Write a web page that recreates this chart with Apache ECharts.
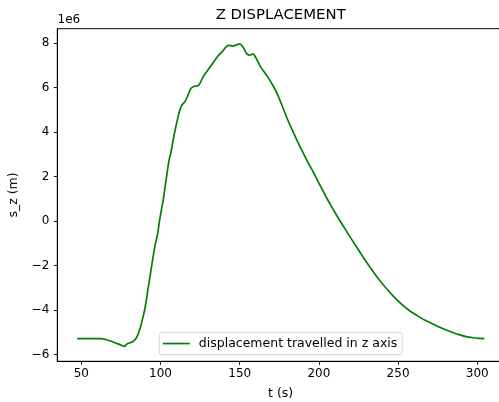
<!DOCTYPE html>
<html>
<head>
<meta charset="utf-8">
<script src="https://cdn.jsdelivr.net/npm/echarts@6/dist/echarts.min.js"></script>
<style>html,body{margin:0;padding:0;background:#fff}#c{width:499px;height:402px}</style>
</head>
<body>
<div id="c"></div>
<script>
// time (s)
const tValues = [47.3,55,62,66,70,74,77,79,81,83,85,87,89,90.5,92,94,96,97,98,99.7,101.8,103.9,105.4,106.5,108.1,110,112,113.5,115.5,117,119,121,123.5,125,127,129.5,133,136,139,141,143,145.5,148,150,152.3,154.5,156.5,158.5,160.5,163.5,166,168,170.5,173.5,177,180,183,187,190,193,196.5,200,203,206,209.5,213.3,217,221,224.5,228,232,236.5,241,247,252,257.5,263,268,273,278.5,284,289,293,297.5,301,304.5];
// s_z in units of 1e6 m
const szValues = [-5.29,-5.29,-5.29,-5.34,-5.44,-5.55,-5.64,-5.52,-5.47,-5.40,-5.22,-4.85,-4.30,-3.80,-3.10,-2.20,-1.30,-0.95,-0.65,0.16,1.00,2.05,2.75,3.05,3.70,4.35,4.95,5.22,5.38,5.60,5.95,6.05,6.08,6.20,6.50,6.75,7.10,7.40,7.62,7.80,7.90,7.87,7.92,7.97,7.80,7.52,7.46,7.52,7.30,6.90,6.65,6.45,6.15,5.75,5.15,4.60,4.12,3.50,3.08,2.65,2.20,1.70,1.30,0.90,0.46,0.01,-0.41,-0.86,-1.25,-1.63,-2.05,-2.50,-2.90,-3.38,-3.73,-4.05,-4.30,-4.50,-4.67,-4.85,-5.00,-5.12,-5.20,-5.25,-5.28,-5.29];
const xTicks = [50,100,150,200,250,300];
const yTicks = [-6,-4,-2,0,2,4,6,8];
const seriesName = 'displacement travelled in z axis';
const titleText = 'Z DISPLACEMENT';
const xName = 't (s)';
const yName = 's_z (m)';
const offsetText = '1e6';

const FONT = 'DejaVu Sans';
const chart = echarts.init(document.getElementById('c'), null, {renderer:'canvas'});
const data = tValues.map((t,i)=>[t, szValues[i]]);
chart.setOption({
  animation: false,
  backgroundColor: '#fff',
  graphic: [
    {type:'text', style:{text:titleText, x:280.7, y:15, textAlign:'center', textVerticalAlign:'middle', font:'14.9px "DejaVu Sans"', fill:'#000'}},
    {type:'text', style:{text:offsetText, x:57.5, y:19.5, textAlign:'left', textVerticalAlign:'middle', font:'12px "DejaVu Sans"', fill:'#000'}}
  ],
  grid: {left:57.3, top:28.7, right:-5, bottom:40.7, show:true, borderColor:'#000', borderWidth:1, backgroundColor:'transparent', containLabel:false, outerBoundsMode:'none'},
  legend: {
    left:159.3, top:332.3, orient:'horizontal',
    padding:[4,5,4,3.5],
    itemWidth:27, itemHeight:1.7,
    backgroundColor:'#fff', borderColor:'#d6d6d6', borderWidth:1, borderRadius:3,
    textStyle:{fontFamily:FONT, fontSize:12.5, color:'#000', padding:[0,0,0,4], lineHeight:14.5},
    data:[{name:seriesName, icon:'rect'}]
  },
  xAxis: {
    type:'value', min:34.8, max:316.9,
    name:xName, nameLocation:'middle', nameGap:26,
    nameTextStyle:{fontFamily:FONT, fontSize:12.5, color:'#000'},
    axisLine:{show:true, onZero:false, lineStyle:{color:'#000', width:1}},
    axisTick:{show:true, inside:false, length:3.5, lineStyle:{color:'#000', width:0.9}, customValues:xTicks},
    axisLabel:{show:true, margin:7, fontFamily:FONT, fontSize:12, color:'#000', customValues:xTicks},
    splitLine:{show:false}
  },
  yAxis: {
    type:'value', min:-6.31, max:8.65,
    name:yName, nameLocation:'middle', nameGap:32, nameRotate:90,
    nameTextStyle:{fontFamily:FONT, fontSize:12.5, color:'#000'},
    axisLine:{show:true, onZero:false, lineStyle:{color:'#000', width:1}},
    axisTick:{show:true, inside:false, length:3.5, lineStyle:{color:'#000', width:0.9}, customValues:yTicks},
    axisLabel:{show:true, margin:8, fontFamily:FONT, fontSize:12, color:'#000', customValues:yTicks,
      formatter:v=>String(v).replace('-', '\u2212')},
    splitLine:{show:false}
  },
  series: [{
    name:seriesName, type:'line', data:data,
    symbol:'none', showSymbol:false, smooth:0.2,
    lineStyle:{color:'#008000', width:1.7},
    itemStyle:{color:'#008000'}
  }]
});
</script>
</body>
</html>
